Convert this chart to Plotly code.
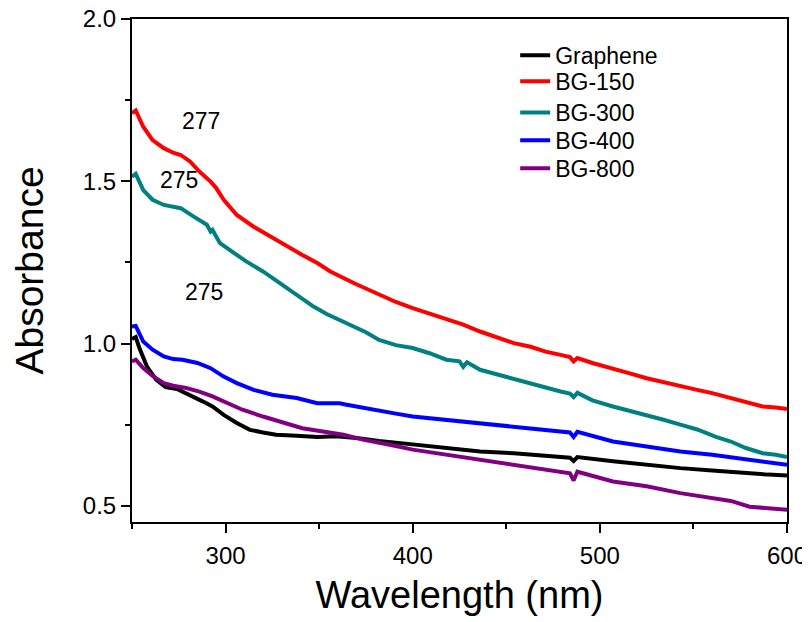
import plotly.graph_objects as go

# ---- data ----
graphene_wl = [250, 252, 254, 258, 263, 268, 274, 281, 288, 293, 299, 306, 313, 320, 327, 338, 349, 359, 370, 382,
               400, 418, 436, 454, 471, 484, 486, 488, 507, 525, 543, 560, 578, 590, 600]
graphene_abs = [1.014, 1.020, 0.985, 0.929, 0.888, 0.866, 0.860, 0.842, 0.821, 0.806, 0.780, 0.755, 0.734, 0.726,
                0.719, 0.716, 0.712, 0.714, 0.709, 0.700, 0.688, 0.678, 0.667, 0.662, 0.654, 0.648, 0.638, 0.650,
                0.637, 0.626, 0.616, 0.609, 0.600, 0.596, 0.593]

bg150_wl = [250, 252, 256, 261, 267, 272, 276, 281, 286, 292, 295, 299, 306, 315, 324, 333, 341, 349, 356, 369,
            382, 391, 400, 409, 418, 427, 436, 445, 454, 463, 471, 479, 484, 486, 488, 496, 507, 516, 525, 534,
            543, 552, 560, 569, 578, 587, 594, 600]
bg150_abs = [1.710, 1.718, 1.668, 1.627, 1.602, 1.588, 1.581, 1.561, 1.530, 1.499, 1.479, 1.443, 1.396, 1.360,
             1.330, 1.299, 1.273, 1.248, 1.222, 1.185, 1.150, 1.128, 1.109, 1.092, 1.073, 1.058, 1.037, 1.020,
             1.001, 0.990, 0.975, 0.965, 0.958, 0.945, 0.955, 0.940, 0.924, 0.908, 0.893, 0.880, 0.868, 0.857,
             0.847, 0.834, 0.821, 0.806, 0.803, 0.798]

bg300_wl = [250, 252, 256, 261, 267, 272, 276, 283, 290, 292, 293, 297, 302, 311, 320, 329, 338, 347, 354, 366,
            375, 382, 391, 400, 409, 418, 425, 427, 429, 436, 445, 454, 463, 471, 479, 484, 486, 488, 496, 507,
            516, 525, 534, 543, 552, 562, 570, 578, 587, 594, 600]
bg300_abs = [1.514, 1.523, 1.473, 1.443, 1.427, 1.420, 1.417, 1.391, 1.366, 1.345, 1.350, 1.309, 1.289, 1.253,
             1.222, 1.186, 1.150, 1.114, 1.091, 1.060, 1.035, 1.011, 0.995, 0.986, 0.970, 0.950, 0.945, 0.928,
             0.942, 0.919, 0.905, 0.888, 0.876, 0.863, 0.852, 0.846, 0.835, 0.848, 0.825, 0.806, 0.793, 0.780,
             0.765, 0.750, 0.735, 0.712, 0.698, 0.678, 0.662, 0.657, 0.650]

bg400_wl = [250, 252, 256, 261, 267, 272, 277, 285, 292, 299, 306, 315, 325, 338, 349, 361, 364, 374, 382, 391,
            400, 418, 436, 454, 471, 484, 486, 488, 507, 525, 543, 560, 578, 590, 600]
bg400_abs = [1.052, 1.054, 1.006, 0.981, 0.960, 0.952, 0.950, 0.940, 0.924, 0.898, 0.878, 0.857, 0.842, 0.832,
             0.816, 0.816, 0.812, 0.801, 0.791, 0.784, 0.775, 0.765, 0.755, 0.744, 0.734, 0.726, 0.712, 0.728,
             0.698, 0.683, 0.667, 0.657, 0.642, 0.632, 0.626]

bg800_wl = [250, 252, 256, 261, 267, 272, 279, 286, 293, 301, 309, 320, 331, 341, 352, 363, 374, 382, 391, 400,
            418, 436, 454, 471, 484, 486, 488, 507, 525, 543, 560, 570, 580, 590, 600]
bg800_abs = [0.945, 0.950, 0.924, 0.900, 0.878, 0.870, 0.863, 0.852, 0.837, 0.816, 0.796, 0.775, 0.755, 0.739,
             0.729, 0.719, 0.703, 0.695, 0.684, 0.673, 0.657, 0.642, 0.626, 0.611, 0.600, 0.578, 0.605, 0.575,
             0.560, 0.539, 0.524, 0.515, 0.497, 0.492, 0.488]

series_names = ["Graphene", "BG-150", "BG-300", "BG-400", "BG-800"]
series_colors = ["#000000", "#FF0000", "#008080", "#0000FF", "#800080"]
series_x = [graphene_wl, bg150_wl, bg300_wl, bg400_wl, bg800_wl]
series_y = [graphene_abs, bg150_abs, bg300_abs, bg400_abs, bg800_abs]

peak_labels = ["277", "275", "275"]
peak_x = [286.8, 275.1, 288.4]
peak_y = [1.686, 1.504, 1.160]

# legend entry vertical positions (paper fraction of plot height)
legend_y = [0.928, 0.876, 0.814, 0.759, 0.703]
legend_x = 0.585

FONT = "Arial, Liberation Sans, sans-serif"

fig = go.Figure()
legend_ids = ["legend", "legend2", "legend3", "legend4", "legend5"]
for name, color, xs, ys, lid in zip(series_names, series_colors, series_x, series_y, legend_ids):
    fig.add_trace(go.Scatter(x=xs, y=ys, mode="lines", name=name, legend=lid,
                             line=dict(color=color, width=4)))

for txt, xv, yv in zip(peak_labels, peak_x, peak_y):
    fig.add_annotation(x=xv, y=yv, text=txt, showarrow=False,
                       font=dict(family=FONT, size=23, color="black"))

axis_common = dict(showline=True, linecolor="black", linewidth=2, mirror=True,
                   ticks="outside", tickwidth=2, ticklen=9, tickcolor="black",
                   showgrid=False, zeroline=False, automargin=False,
                   ticklabeloverflow="allow",
                   tickfont=dict(family=FONT, size=24, color="black"))

fig.update_xaxes(range=[250, 600], tick0=0, dtick=100, ticklabelstandoff=2,
                 minor=dict(ticks="outside", ticklen=5, tickwidth=2, dtick=50, tick0=0, tickcolor="black"),
                 title=dict(text="Wavelength (nm)", font=dict(family=FONT, size=38, color="black"), standoff=14),
                 **axis_common)
fig.update_yaxes(range=[0.45, 2.0], tick0=0.5, dtick=0.5, tickformat=".1f",
                 minor=dict(ticks="outside", ticklen=5, tickwidth=2, dtick=0.25, tick0=0.5, tickcolor="black"),
                 title=dict(text="Absorbance", font=dict(family=FONT, size=39, color="black"), standoff=32),
                 **axis_common)

legend_common = dict(x=legend_x, xanchor="left", yanchor="middle",
                     bgcolor="rgba(0,0,0,0)", borderwidth=0,
                     font=dict(family=FONT, size=23, color="black"))
layout_legends = {}
for lid, ly in zip(legend_ids, legend_y):
    layout_legends[lid] = dict(y=ly, **legend_common)

fig.update_layout(
    width=802, height=614,
    margin=dict(l=124, r=23, t=11, b=100, autoexpand=False),
    paper_bgcolor="white", plot_bgcolor="white",
    showlegend=True,
    font=dict(family=FONT, color="black"),
    **layout_legends,
)

fig.write_html("out.html")
